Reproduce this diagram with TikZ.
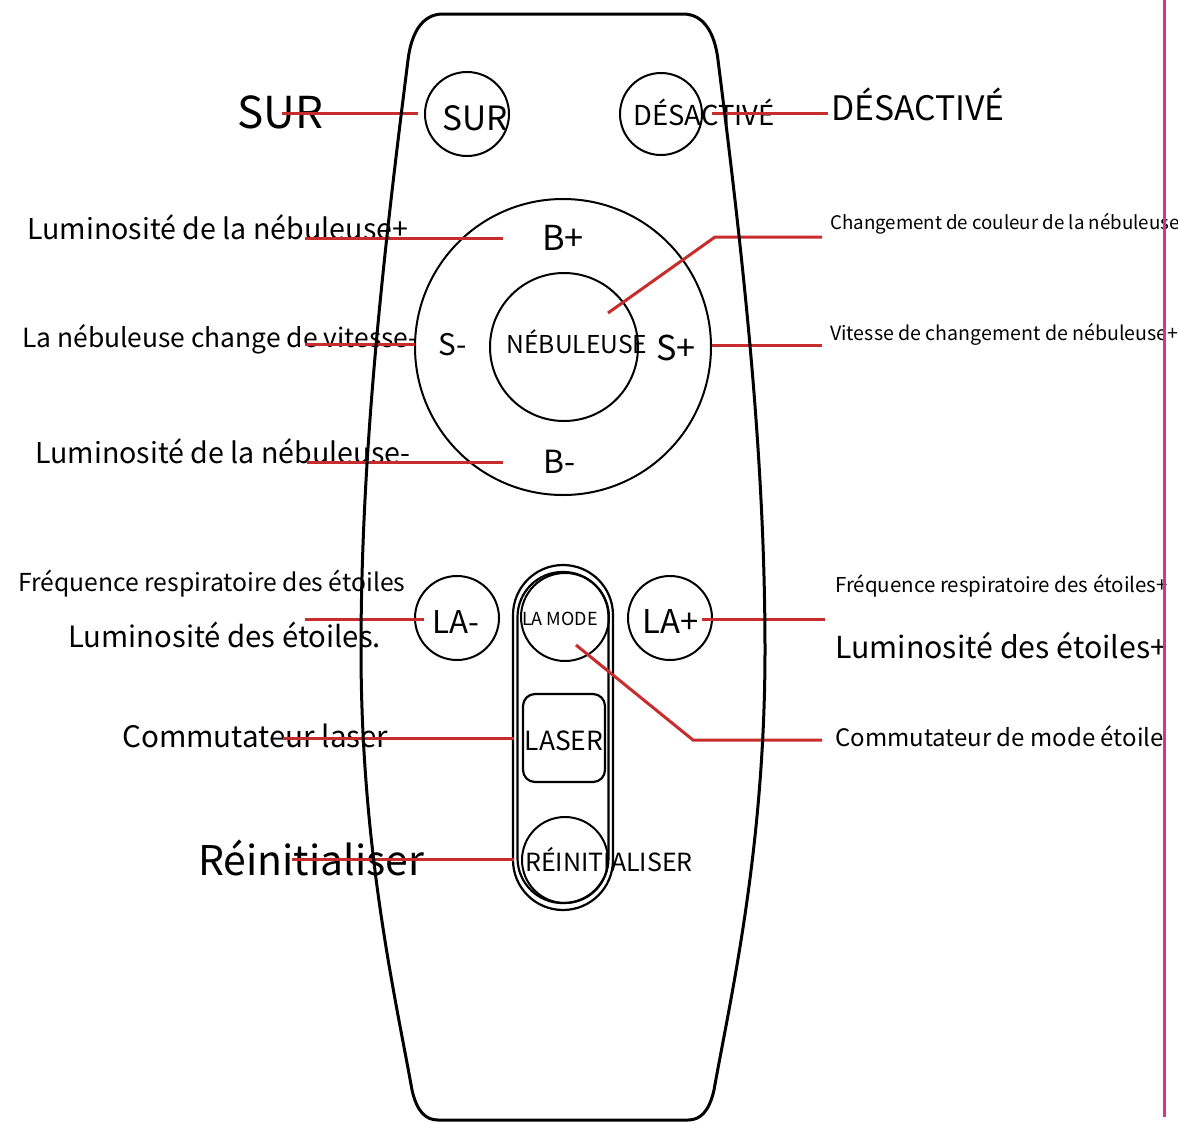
\documentclass[tikz,border=0pt]{standalone}
\usepackage{fontspec}
\setmainfont{Noto Sans CJK SC}
\definecolor{leadred}{RGB}{200,45,45}
\definecolor{edgepink}{RGB}{214,51,140}
\newcommand{\fsz}[1]{\fontsize{#1}{#1}\selectfont}
\tikzset{
  btn/.style={draw, circle, line width=2pt, inner sep=0pt},
  pill/.style={draw, rectangle, line width=2.2pt, inner sep=0pt},
  lead/.style={draw=leadred, line width=3pt},
  lbl/.style={anchor=base west, inner sep=0pt},
  keytxt/.style={anchor=base, inner sep=0pt},
}
\begin{document}
\begin{tikzpicture}[x=1pt, y=-1pt]
  \useasboundingbox (0,0) rectangle (1178,1122);

  % buttons
  \node[btn, minimum size=84pt] (sur) at (467,114) {};
  \node[btn, minimum size=82pt] (off) at (661,114) {};
  \node[btn, minimum size=296pt] (ring) at (563,347) {};
  \node[btn, minimum size=148pt] (neb) at (564,347) {};
  \node[btn, minimum size=84pt] (laminus) at (457,618) {};
  \node[btn, minimum size=84pt] (laplus) at (670,618) {};
  \node[pill, rounded corners=50pt, minimum width=100pt, minimum height=345pt] (pillout) at (563,737.5) {};
  \node[pill, rounded corners=45pt, minimum width=91pt, minimum height=331pt] (pillin) at (563,737.5) {};
  \node[btn, minimum size=88pt] (mode) at (565,617) {};
  \node[pill, rounded corners=12pt, minimum width=82pt, minimum height=88pt] (laser) at (564,738) {};
  \node[btn, minimum size=86pt] (reset) at (565,860) {};

  % texts on the remote
  \node[keytxt, font=\fsz{33.5}] (b-sur) at (475,130) {SUR};
  \node[keytxt, font=\fsz{27.4}] (b-off) at (704,125) {DÉSACTIVÉ};
  \node[keytxt, font=\fsz{34.4}] (b-bplus) at (563,250) {B+};
  \node[keytxt, font=\fsz{29.7}] (b-sminus) at (453,355) {S-};
  \node[keytxt, font=\fsz{34.2}] (b-splus) at (676,360) {S+};
  \node[keytxt, font=\fsz{31.9}] (b-bminus) at (560,473) {B-};
  \node[keytxt, font=\fsz{24.6}] (b-neb) at (577,353) {NÉBULEUSE};
  \node[keytxt, font=\fsz{31.3}] (b-laminus) at (456,633) {LA-};
  \node[keytxt, font=\fsz{32.8}] (b-laplus) at (671,633) {LA+};
  \node[keytxt, font=\fsz{18}] (b-mode) at (560,625) {LA MODE};
  \node[keytxt, font=\fsz{26.4}] (b-laser) at (564,750) {LASER};
  \node[keytxt, font=\fsz{25}] (b-reset) at (609,871) {RÉINITIALISER};

  % labels, left
  \node[lbl, font=\fsz{44}] (t-sur) at (237,128) {SUR};
  \node[lbl, font=\fsz{28.6}] (t-bplus) at (27,239) {Luminosité de la nébuleuse+};
  \node[lbl, font=\fsz{26.4}] (t-sminus) at (22,347) {La nébuleuse change de vitesse-};
  \node[lbl, font=\fsz{28.6}] (t-bminus) at (35,463) {Luminosité de la nébuleuse-};
  \node[lbl, font=\fsz{24.7}] (t-freq) at (18,591) {Fréquence respiratoire des étoiles};
  \node[lbl, font=\fsz{29.3}] (t-lum) at (68,647) {Luminosité des étoiles.};
  \node[lbl, font=\fsz{29.6}] (t-laser) at (122,747) {Commutateur laser};
  \node[lbl, font=\fsz{40.9}] (t-reset) at (198,875) {Réinitialiser};

  % labels, right
  \node[lbl, font=\fsz{33.7}] (t-off) at (831,120) {DÉSACTIVÉ};
  \node[lbl, font=\fsz{18.7}] (t-color) at (830,229) {Changement de couleur de la nébuleuse};
  \node[lbl, font=\fsz{19.6}] (t-splus) at (830,340) {Vitesse de changement de nébuleuse+};
  \node[lbl, font=\fsz{20.5}] (t-freqp) at (835,592) {Fréquence respiratoire des étoiles+};
  \node[lbl, font=\fsz{30.3}] (t-lump) at (835,658) {Luminosité des étoiles+};
  \node[lbl, font=\fsz{24}] (t-mode) at (835,746) {Commutateur de mode étoile};

  % lead ends
  \coordinate (l-sur) at (282,113);    \coordinate (r-sur) at (418,113);
  \coordinate (l-off) at (712,113);    \coordinate (r-off) at (828,113);
  \coordinate (l-bplus) at (305,238);  \coordinate (r-bplus) at (503,238);
  \coordinate (l-sminus) at (305,344); \coordinate (r-sminus) at (415,344);
  \coordinate (l-bminus) at (307,462); \coordinate (r-bminus) at (503,462);
  \coordinate (l-color) at (608,313);  \coordinate (k-color) at (715,237);
  \coordinate (r-color) at (822,237);
  \coordinate (l-splus) at (712,345);  \coordinate (r-splus) at (822,345);
  \coordinate (l-la) at (305,619);     \coordinate (r-la) at (424,619);
  \coordinate (l-lap) at (702,619);    \coordinate (r-lap) at (825,619);
  \coordinate (l-laser) at (283,738);  \coordinate (r-laser) at (514,738);
  \coordinate (l-mode) at (576,645);   \coordinate (k-mode) at (693,740);
  \coordinate (r-mode) at (822,740);
  \coordinate (l-reset) at (292,859);  \coordinate (r-reset) at (514,859);

  \begin{scope}[lead]
    \draw (l-sur) to (r-sur);
    \draw (l-off) to (r-off);
    \draw (l-bplus) to (r-bplus);
    \draw (l-sminus) to (r-sminus);
    \draw (l-bminus) to (r-bminus);
    \draw (l-color) -- (k-color) -- (r-color);
    \draw (l-splus) to (r-splus);
    \draw (l-la) to (r-la);
    \draw (l-lap) to (r-lap);
    \draw (l-laser) to (r-laser);
    \draw (l-mode) -- (k-mode) -- (r-mode);
    \draw (l-reset) to (r-reset);
  \end{scope}

  % body of the remote
  \draw[line width=3pt, line join=round]
    (443,14) -- (683,14) .. controls (705,14) and (715,35) .. (718,60)
    .. controls (742,250) and (765,450) .. (765,650)
    .. controls (765,850) and (730,1000) .. (714,1090)
    .. controls (709,1112) and (700,1120) .. (688,1120) -- (438,1120)
    .. controls (426,1120) and (417,1112) .. (412,1090)
    .. controls (396,1000) and (361,850) .. (361,650)
    .. controls (361,450) and (384,250) .. (408,60)
    .. controls (411,35) and (421,14) .. (443,14) -- cycle;

  % page edge
  \coordinate (e-top) at (1164,0);
  \coordinate (e-bot) at (1164,1117);
  \draw[edgepink, line width=3pt] (e-top) -- (e-bot);
\end{tikzpicture}
\end{document}
